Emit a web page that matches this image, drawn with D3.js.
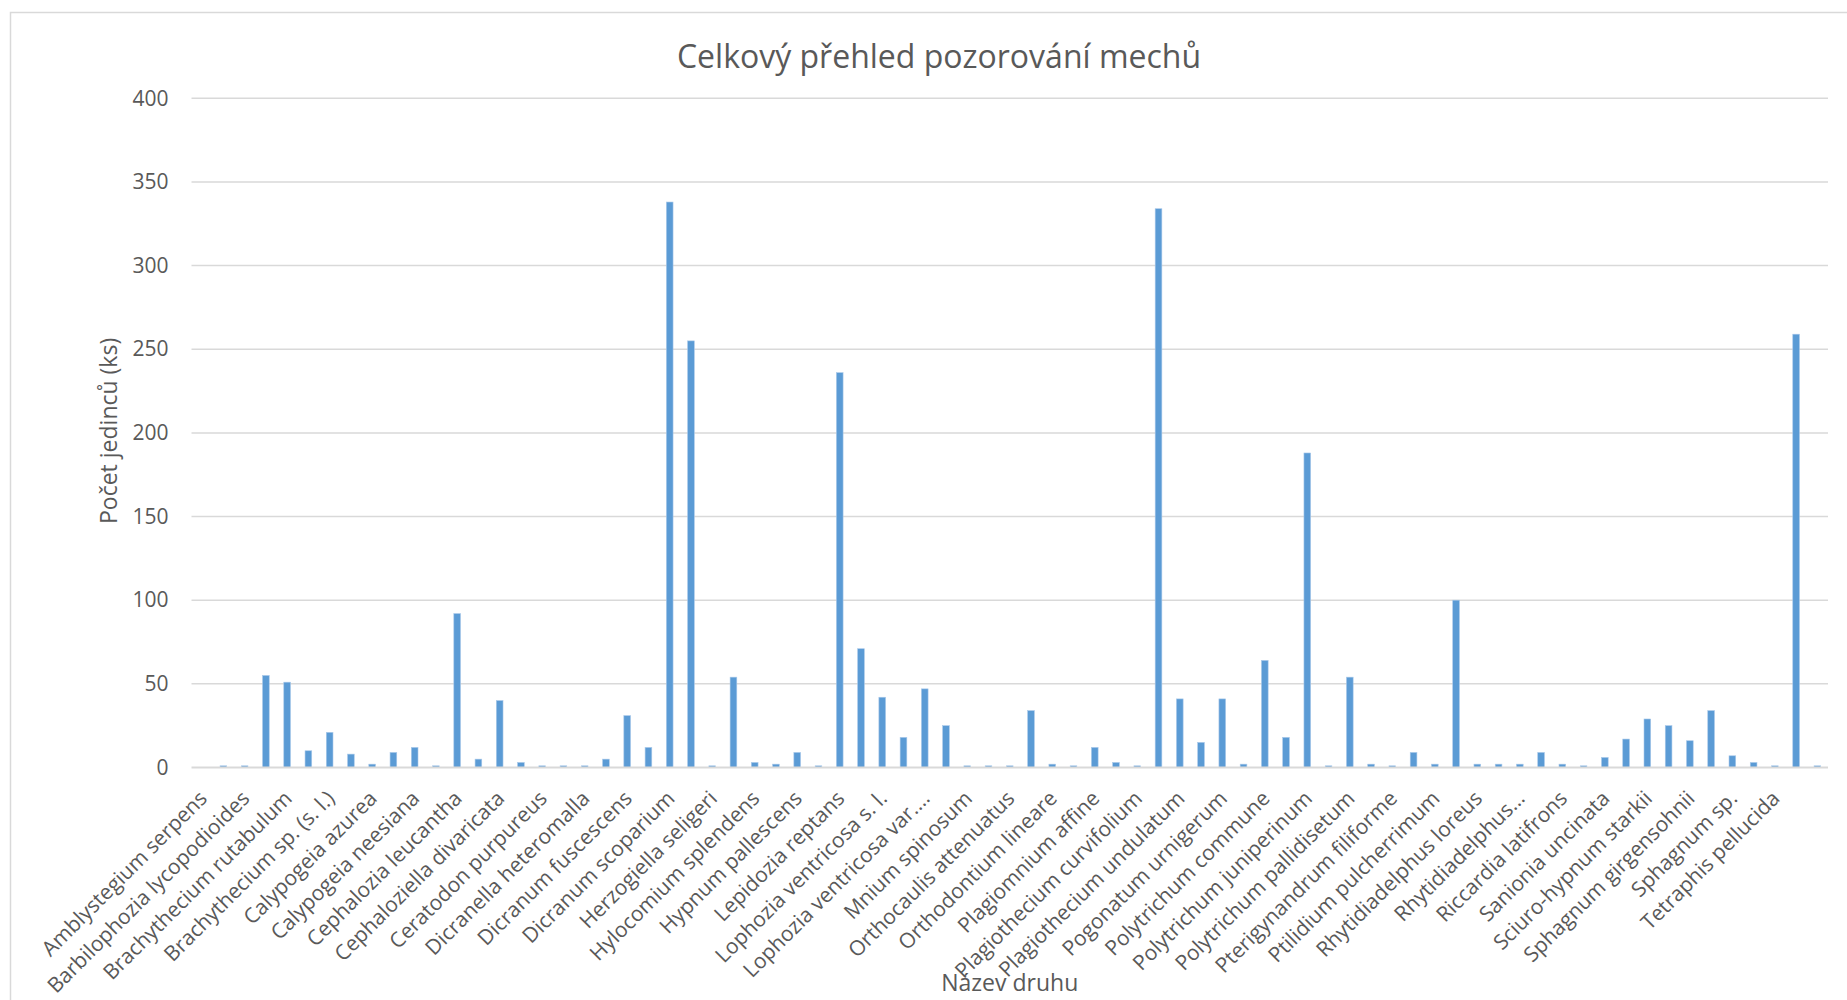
<!DOCTYPE html>
<html>
<head>
<meta charset="utf-8">
<script src="https://cdn.jsdelivr.net/npm/d3@7"></script>
<style>
  html, body { margin: 0; padding: 0; background: #fff; }
  svg { display: block; font-family: "Open Sans", sans-serif; }
</style>
</head>
<body>
<svg id="chart" width="1847" height="1000"></svg>
<script>
// Category names (labels shown in the original only for every other category;
// the unlabeled ones are placeholders in alphabetical order)
const categories = [
  "Amblystegium serpens", "Atrichum undulatum", "Barbilophozia lycopodioides", "Brachythecium rivulare",
  "Brachythecium rutabulum", "Brachythecium salebrosum", "Brachythecium sp. (s. l.)", "Bryum sp.",
  "Calypogeia azurea", "Calypogeia integristipula", "Calypogeia neesiana", "Cephalozia bicuspidata",
  "Cephalozia leucantha", "Cephalozia lunulifolia", "Cephaloziella divaricata", "Cephaloziella rubella",
  "Ceratodon purpureus", "Dicranella cerviculata", "Dicranella heteromalla", "Dicranodontium denudatum",
  "Dicranum fuscescens", "Dicranum montanum", "Dicranum scoparium", "Diplophyllum albicans",
  "Herzogiella seligeri", "Homalia trichomanoides", "Hylocomium splendens", "Hypnum cupressiforme",
  "Hypnum pallescens", "Isothecium alopecuroides", "Lepidozia reptans", "Leucobryum glaucum",
  "Lophozia ventricosa s. l.", "Lophozia ventricosa s. str.", "Lophozia ventricosa var. silvicola", "Mnium hornum",
  "Mnium spinosum", "Nowellia curvifolia", "Orthocaulis attenuatus", "Orthodicranum montanum",
  "Orthodontium lineare", "Pellia epiphylla", "Plagiomnium affine", "Plagiomnium undulatum",
  "Plagiothecium curvifolium", "Plagiothecium denticulatum", "Plagiothecium undulatum", "Pleurozium schreberi",
  "Pogonatum urnigerum", "Pohlia nutans", "Polytrichum commune", "Polytrichum formosum",
  "Polytrichum juniperinum", "Polytrichum longisetum", "Polytrichum pallidisetum", "Polytrichum piliferum",
  "Pterigynandrum filiforme", "Ptilidium ciliare", "Ptilidium pulcherrimum", "Ptilium crista-castrensis",
  "Rhytidiadelphus loreus", "Rhytidiadelphus squarrosus", "Rhytidiadelphus triquetrus", "Riccardia chamedryfolia",
  "Riccardia latifrons", "Riccardia palmata", "Sanionia uncinata", "Scapania nemorea",
  "Sciuro-hypnum starkii", "Sphagnum fallax", "Sphagnum girgensohnii", "Sphagnum palustre",
  "Sphagnum sp.", "Sphagnum squarrosum", "Tetraphis pellucida", "Thuidium tamariscinum",
  "Tritomaria exsecta"
];

// Displayed (possibly truncated) label texts
const displayLabels = {
  "Lophozia ventricosa var. silvicola": "Lophozia ventricosa var.…",
  "Rhytidiadelphus triquetrus": "Rhytidiadelphus…"
};

// Observed counts (ks)
const counts = [
  0, 1, 1, 55, 51, 10, 21, 8, 2, 9,
  12, 1, 92, 5, 40, 3, 1, 1, 1, 5,
  31, 12, 338, 255, 1, 54, 3, 2, 9, 1,
  236, 71, 42, 18, 47, 25, 1, 1, 1, 34,
  2, 1, 12, 3, 1, 334, 41, 15, 41, 2,
  64, 18, 188, 1, 54, 2, 1, 9, 2, 100,
  2, 2, 2, 9, 2, 1, 6, 17, 29, 25,
  16, 34, 7, 3, 1, 259, 1
];

const yTicks = [0, 50, 100, 150, 200, 250, 300, 350, 400];

const title = "Celkový přehled pozorování mechů";
const yTitle = "Počet jedinců (ks)";
const xTitle = "Název druhu";

const svg = d3.select("#chart");
const W = 1847, H = 1000;
const plot = { left: 191.5, right: 1828, top: 98.3, bottom: 767.5 };
const textColor = "#595959";
const gridColor = "#d9d9d9";

svg.append("rect").attr("x", 0).attr("y", 0).attr("width", W).attr("height", H).attr("fill", "#fff");
// chart frame
svg.append("rect")
  .attr("x", 10.5).attr("y", 12.5).attr("width", 1900).attr("height", 1100)
  .attr("fill", "none").attr("stroke", gridColor).attr("stroke-width", 1.5);

const x = d3.scaleBand()
  .domain(d3.range(categories.length))
  .range([plot.left, plot.right])
  .paddingInner(0.685)
  .paddingOuter(0.3425);

const y = d3.scaleLinear().domain([0, 400]).range([plot.bottom, plot.top]);

// gridlines
svg.append("g").selectAll("line")
  .data(yTicks.filter(t => t > 0))
  .join("line")
  .attr("x1", plot.left).attr("x2", plot.right)
  .attr("y1", d => y(d)).attr("y2", d => y(d))
  .attr("stroke", gridColor).attr("stroke-width", 1.5);

// y axis labels
const yAxis = d3.axisLeft(y).tickValues(yTicks).tickSize(0).tickPadding(0);
const gy = svg.append("g").attr("transform", `translate(${plot.left - 23},0)`).call(yAxis);
gy.select(".domain").remove();
gy.selectAll("text")
  .attr("fill", textColor)
  .style("font-size", "21px")
  .style("font-family", "'Open Sans', sans-serif");

// bars
svg.append("g").selectAll("rect")
  .data(counts)
  .join("rect")
  .attr("x", (d, i) => x(i))
  .attr("width", x.bandwidth())
  .attr("y", d => y(d))
  .attr("height", d => y(0) - y(d))
  .attr("fill", "#5b9bd5")
  .attr("stroke", "#a9c9ea")
  .attr("stroke-width", 0.6);

// x axis line
svg.append("line")
  .attr("x1", plot.left).attr("x2", plot.right)
  .attr("y1", y(0)).attr("y2", y(0))
  .attr("stroke", gridColor).attr("stroke-width", 2);

// x axis labels (every other category)
const labelIdx = d3.range(0, categories.length - 1, 2);
const xAxis = d3.axisBottom(x)
  .tickValues(labelIdx)
  .tickSize(0)
  .tickFormat(i => displayLabels[categories[i]] || categories[i]);
const gx = svg.append("g").attr("transform", `translate(0,${plot.bottom})`).call(xAxis);
gx.select(".domain").remove();
gx.selectAll("text")
  .attr("fill", textColor)
  .style("font-size", "21px")
  .style("font-family", "'Open Sans', sans-serif")
  .attr("text-anchor", "end")
  .attr("y", 0).attr("dy", "0.35em")
  .attr("transform", "translate(1,27) rotate(-45)");

// title
svg.append("text")
  .attr("x", 939).attr("y", 68)
  .attr("text-anchor", "middle")
  .attr("fill", textColor)
  .style("font-size", "32px")
  .text(title);

// y title
svg.append("text")
  .attr("transform", `translate(117,${(plot.top + plot.bottom) / 2 - 2}) rotate(-90)`)
  .attr("text-anchor", "middle")
  .attr("fill", textColor)
  .style("font-size", "23px")
  .text(yTitle);

// x title
svg.append("text")
  .attr("x", (plot.left + plot.right) / 2).attr("y", 991)
  .attr("text-anchor", "middle")
  .attr("fill", textColor)
  .style("font-size", "23px")
  .text(xTitle);
</script>
</body>
</html>
